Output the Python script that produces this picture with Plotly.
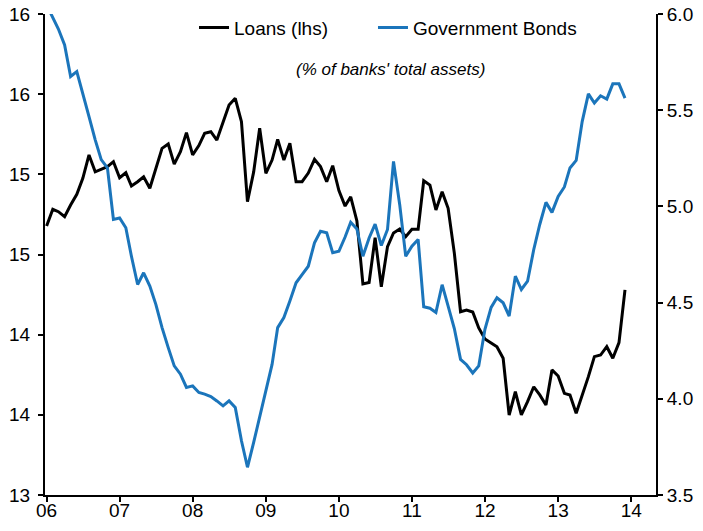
import pandas as pd
import plotly.graph_objects as go

months = pd.date_range("2006-01-01", periods=96, freq="MS")

loans = [
    14.678, 14.782, 14.767, 14.736, 14.809, 14.875, 14.975, 15.121, 15.016, 15.031, 15.048, 15.079,
    14.979, 15.010, 14.927, 14.954, 14.985, 14.913, 15.038, 15.162, 15.189, 15.064, 15.141, 15.260,
    15.121, 15.179, 15.256, 15.266, 15.214, 15.328, 15.432, 15.474, 15.328, 14.829, 15.015, 15.287,
    15.006, 15.089, 15.218, 15.089, 15.194, 14.954, 14.954, 15.008, 15.094, 15.048, 14.954, 15.054,
    14.899, 14.802, 14.860, 14.709, 14.316, 14.325, 14.605, 14.299, 14.549, 14.634, 14.659, 14.611,
    14.657, 14.657, 14.960, 14.933, 14.778, 14.892, 14.788, 14.509, 14.143, 14.154, 14.141, 14.042,
    13.973, 13.948, 13.925, 13.853, 13.499, 13.644, 13.499, 13.582, 13.675, 13.624, 13.561, 13.780,
    13.742, 13.634, 13.624, 13.510, 13.617, 13.738, 13.863, 13.873, 13.925, 13.853, 13.950, 14.279,
]

gov_bonds = [
    6.047, 5.979, 5.922, 5.839, 5.675, 5.701, 5.580, 5.467, 5.346, 5.243, 5.200, 4.932,
    4.940, 4.889, 4.741, 4.594, 4.655, 4.586, 4.491, 4.370, 4.266, 4.171, 4.128, 4.059,
    4.067, 4.033, 4.024, 4.012, 3.989, 3.963, 3.989, 3.955, 3.782, 3.644, 3.773, 3.903,
    4.039, 4.179, 4.370, 4.422, 4.508, 4.603, 4.646, 4.689, 4.811, 4.871, 4.863, 4.759,
    4.767, 4.841, 4.918, 4.883, 4.741, 4.836, 4.908, 4.797, 4.880, 5.234, 5.009, 4.741,
    4.793, 4.828, 4.478, 4.471, 4.449, 4.593, 4.482, 4.365, 4.205, 4.177, 4.134, 4.171,
    4.361, 4.475, 4.525, 4.499, 4.430, 4.637, 4.568, 4.611, 4.776, 4.906, 5.021, 4.969,
    5.052, 5.101, 5.200, 5.239, 5.441, 5.585, 5.537, 5.575, 5.558, 5.637, 5.637, 5.563,
]

left_tickvals = [13.0, 13.5, 14.0, 14.5, 15.0, 15.5, 16.0]
left_ticktext = ["13", "14", "14", "15", "15", "16", "16"]
right_tickvals = [3.5, 4.0, 4.5, 5.0, 5.5, 6.0]

FONT = "Arial, Liberation Sans, sans-serif"
BLUE = "#1B75BB"

fig = go.Figure()
fig.add_trace(go.Scatter(x=months, y=loans, name="Loans (lhs)", mode="lines",
                         line=dict(color="black", width=3), yaxis="y", legend="legend"))
fig.add_trace(go.Scatter(x=months, y=gov_bonds, name="Government Bonds", mode="lines",
                         line=dict(color=BLUE, width=3), yaxis="y2", legend="legend2"))

axis_common = dict(
    showline=True, linecolor="black", linewidth=2,
    ticks="outside", ticklen=5, tickwidth=2, tickcolor="black",
    showgrid=False, zeroline=False, automargin=False,
    tickfont=dict(size=19, family=FONT, color="black"),
)

legend_common = dict(
    orientation="h", xanchor="left", y=1.011, yanchor="top",
    font=dict(size=19, family=FONT, color="black"), bgcolor="rgba(0,0,0,0)",
    itemwidth=30,
)

fig.update_layout(
    width=703, height=531,
    margin=dict(l=45, r=47, t=14, b=36, autoexpand=False),
    paper_bgcolor="white", plot_bgcolor="white",
    font=dict(family=FONT, size=19, color="black"),
    showlegend=True,
    legend=dict(x=0.2439, **legend_common),
    legend2=dict(x=0.5368, **legend_common),
    xaxis=dict(
        type="date",
        range=["2005-12-24", "2014-05-05"],
        tick0="2006-01-01", dtick="M12", tickformat="%y",
        ticklabelstandoff=-8,
        **axis_common,
    ),
    yaxis=dict(
        range=[13.0, 16.0],
        tickvals=left_tickvals, ticktext=left_ticktext,
        ticklabelstandoff=4,
        **axis_common,
    ),
    yaxis2=dict(
        range=[3.5, 6.0], overlaying="y", side="right",
        tickvals=right_tickvals, tickformat=".1f",
        **axis_common,
    ),
    annotations=[dict(
        text="<i>(% of banks' total assets)</i>", xref="paper", yref="paper",
        x=0.566, y=0.884, xanchor="center", yanchor="middle", showarrow=False,
        font=dict(size=17, family=FONT, color="black"),
    )],
)

fig.write_html("out.html", config={"displayModeBar": False},
               post_script="document.body.style.margin='0';")
